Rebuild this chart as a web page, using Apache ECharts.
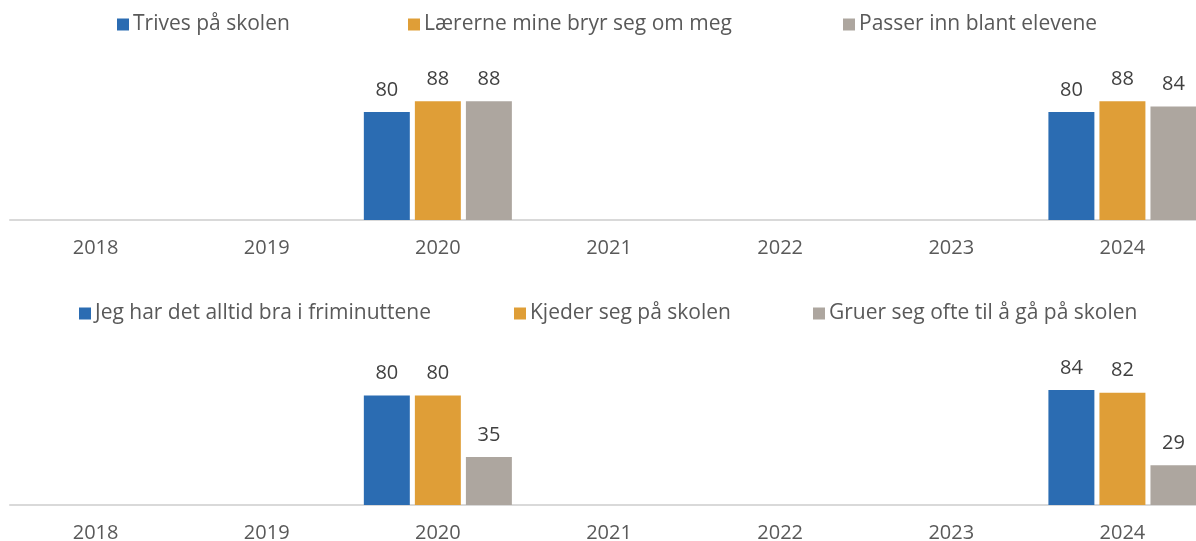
<!DOCTYPE html>
<html>
<head>
<meta charset="utf-8">
<script src="https://cdn.jsdelivr.net/npm/echarts@6/dist/echarts.min.js"></script>
<style>
  html, body { margin: 0; padding: 0; background: #ffffff; }
  #chart { width: 1196px; height: 541px; }
</style>
</head>
<body>
<div id="chart"></div>
<script>
// Years shown on both panels
const years = ['2018', '2019', '2020', '2021', '2022', '2023', '2024'];

// Upper panel
const trives        = [null, null, 80, null, null, null, 80];
const laererne      = [null, null, 88, null, null, null, 88];
const passerInn     = [null, null, 88, null, null, null, 84];

// Lower panel
const friminutt     = [null, null, 80, null, null, null, 84];
const kjeder        = [null, null, 80, null, null, null, 82];
const gruer         = [null, null, 35, null, null, null, 29];

const names = [
  'Trives på skolen', 'Lærerne mine bryr seg om meg', 'Passer inn blant elevene',
  'Jeg har det alltid bra i friminuttene', 'Kjeder seg på skolen', 'Gruer seg ofte til å gå på skolen'
];
const colors = ['#2B6CB2', '#DF9E37', '#ADA69F'];
const FONT = '"Open Sans", Roboto, sans-serif';

const chart = echarts.init(document.getElementById('chart'));

function xAxis(gridIndex) {
  return {
    type: 'category', gridIndex, data: years,
    axisLine: { lineStyle: { color: '#D9D9D9', width: 2 } },
    axisTick: { show: false },
    axisLabel: { color: '#595959', fontSize: 20, fontFamily: FONT, margin: 18 }
  };
}
function yAxis(gridIndex) {
  return { type: 'value', gridIndex, min: 0, max: 100, show: false, splitLine: { show: false } };
}
function bar(name, data, idx, axis) {
  return {
    name, type: 'bar', data, xAxisIndex: axis, yAxisIndex: axis,
    itemStyle: { color: colors[idx] },
    barGap: '11%', barCategoryGap: '13.5%',
    label: { show: true, position: 'top', distance: 12, color: '#404040', fontSize: 20, fontFamily: FONT },
    emphasis: { disabled: true }
  };
}
function legend(name, left, top) {
  return {
    data: [name], left, top, icon: 'rect', itemWidth: 12, itemHeight: 12, itemGap: 0,
    textStyle: { color: '#595959', fontSize: 21, fontFamily: FONT, padding: [0, 0, 0, -1] },
    selectedMode: false
  };
}

chart.setOption({
  animation: false,
  backgroundColor: '#ffffff',
  legend: [
    legend(names[0], 112, 9),
    legend(names[1], 403, 9),
    legend(names[2], 838, 9),
    legend(names[3], 74, 298),
    legend(names[4], 509, 298),
    legend(names[5], 808, 298)
  ],
  grid: [
    { left: 10, width: 1198, top: 85, height: 135, outerBoundsMode: 'none' },
    { left: 10, width: 1198, top: 368, height: 137, outerBoundsMode: 'none' }
  ],
  xAxis: [xAxis(0), xAxis(1)],
  yAxis: [yAxis(0), yAxis(1)],
  series: [
    bar(names[0], trives, 0, 0),
    bar(names[1], laererne, 1, 0),
    bar(names[2], passerInn, 2, 0),
    bar(names[3], friminutt, 0, 1),
    bar(names[4], kjeder, 1, 1),
    bar(names[5], gruer, 2, 1)
  ]
});
</script>
</body>
</html>
